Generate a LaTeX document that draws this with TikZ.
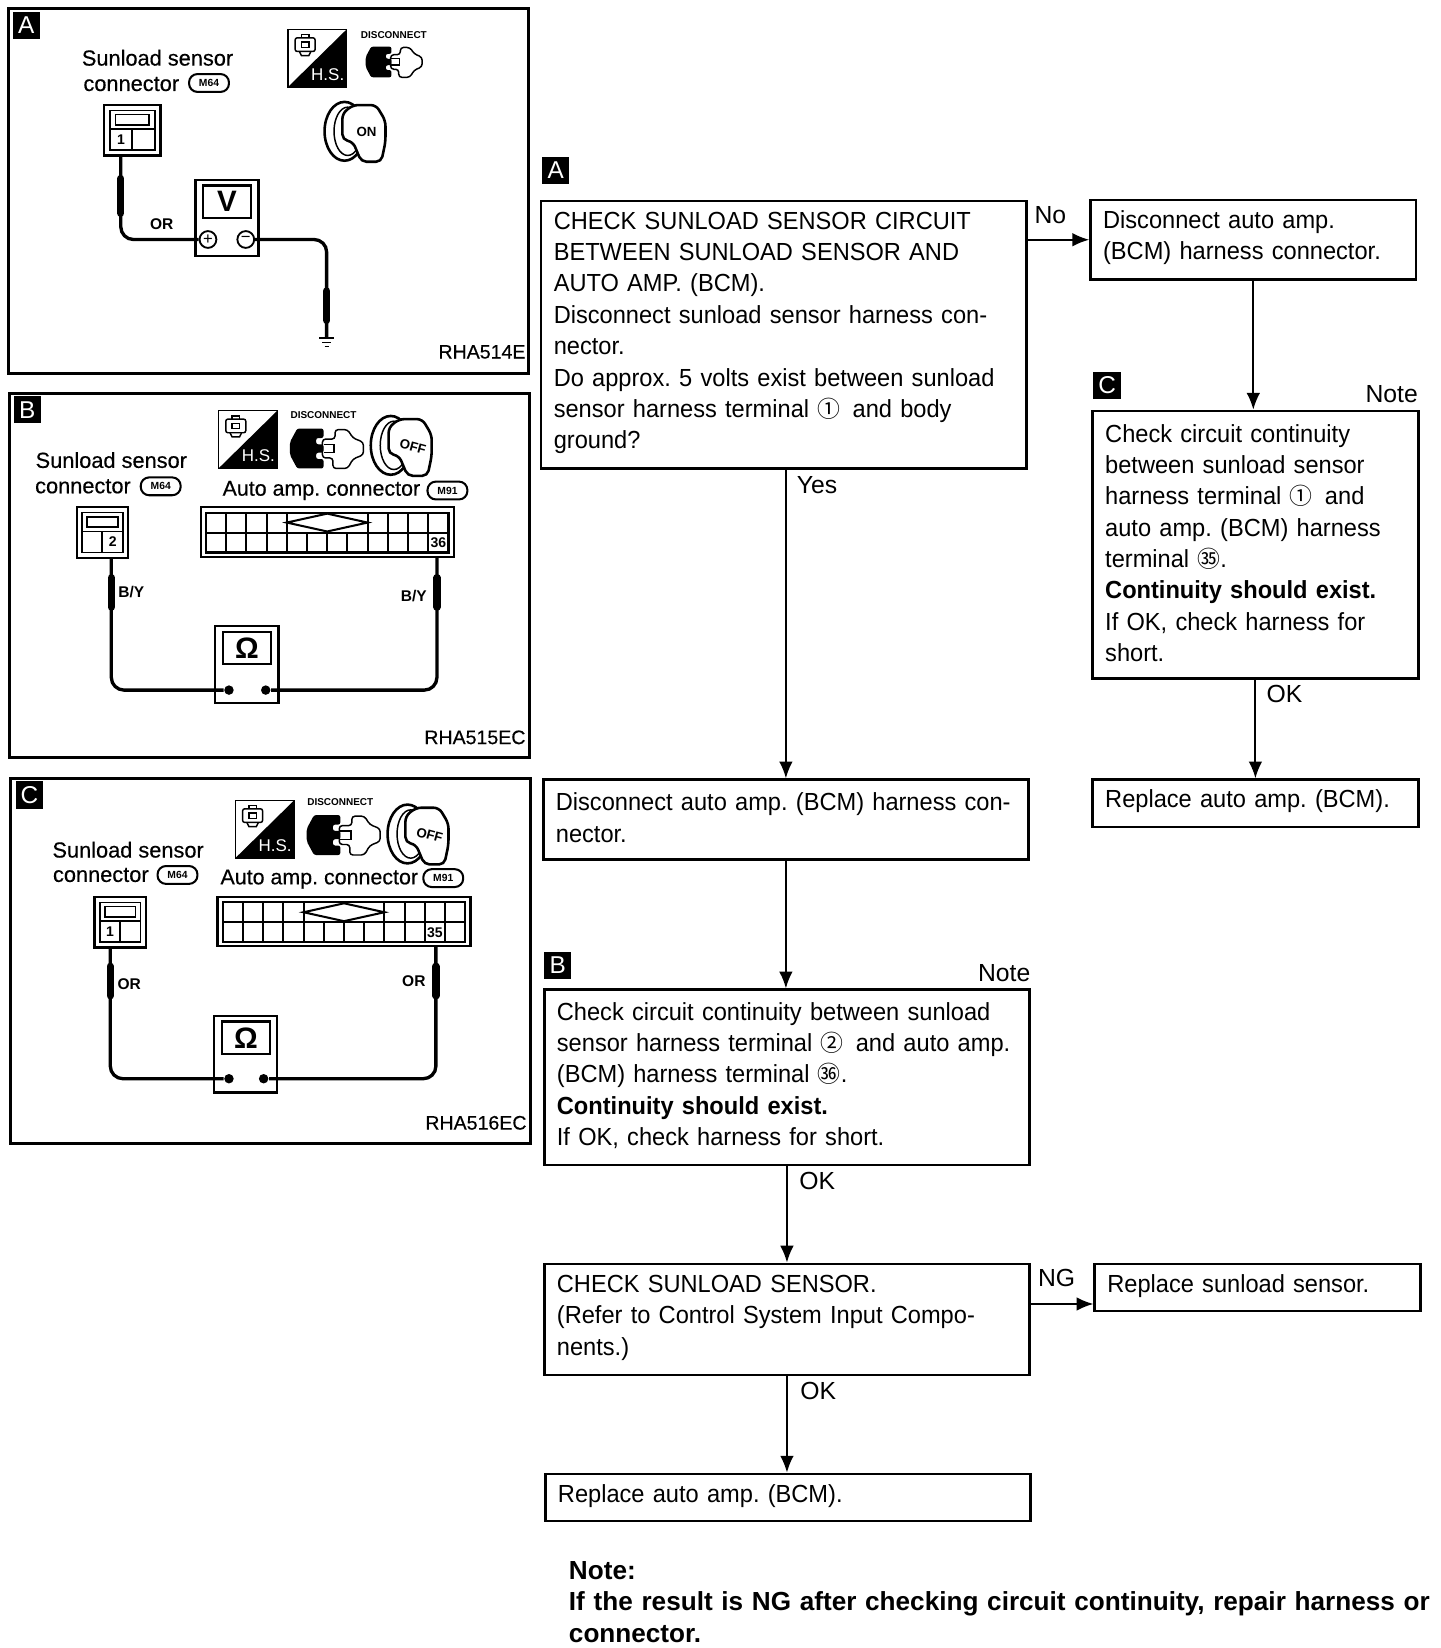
\documentclass[tikz,border=0pt]{standalone}
\usepackage{fontspec}
\setmainfont{Liberation Sans}
\newfontfamily\circfont{Noto Sans CJK JP}
\newfontfamily\stepfont[FakeStretch=0.955]{Liberation Sans}
\newfontfamily\capfont[FakeBold=0.4]{Liberation Sans}
\frenchspacing
\usepackage{tikz}
\usetikzlibrary{arrows.meta,positioning}

\newcommand{\Pin}[1]{{\circfont\fontsize{6.2}{8.5}\selectfont #1}}

% H.S. badge, top left at #2,#3
\newcommand{\HSIcon}[3]{
	\begin{scope}[shift={(#2,#3)}]
		\fill (0.56,0) -- (0.56,-0.55) -- (0,-0.55) -- cycle;
		\draw[Thin] (0,0) rectangle (0.56,-0.55);
		\node (#1hs) at (0.38,-0.43) [HSText] {H.S.};
		\draw[Thin, rounded corners=0.02cm] (0.07,-0.08) rectangle (0.26,-0.21);
		\draw[Thin] (0.11,-0.21) -- (0.13,-0.25) -- (0.2,-0.25) -- (0.22,-0.21);
		\draw[Thin] (0.13,-0.08) -- (0.13,-0.05) -- (0.2,-0.05) -- (0.2,-0.08);
		\draw[Thin] (0.13,-0.12) rectangle (0.2,-0.17);
	\end{scope}
}

% unplugged connector, centre at #2,#3, scale #4
\newcommand{\PlugIcon}[4]{
	\begin{scope}[shift={(#2,#3)}, scale=#4]
		\draw[Thin, fill=white, rounded corners=0.03cm] (-0.04,0.09) -- (0.08,0.09) -- (0.08,0.18) -- (0.2,0.18) -- (0.25,0.1) -- (0.35,0.06)
			-- (0.35,-0.06) -- (0.25,-0.1) -- (0.2,-0.19) -- (0.06,-0.19) -- (0.06,-0.09) -- (-0.04,-0.09) -- cycle;
		\draw[Thin] (-0.03,0.04) -- (0.07,0.04) -- (0.07,-0.04) -- (-0.03,-0.04);
		\fill[rounded corners=0.02cm] (-0.35,0.06) -- (-0.28,0.19) -- (-0.03,0.19) -- (-0.03,0.1) -- (-0.1,0.1) -- (-0.1,0.04) -- (-0.03,0.04)
			-- (-0.03,-0.04) -- (-0.1,-0.04) -- (-0.1,-0.1) -- (-0.03,-0.1) -- (-0.03,-0.19) -- (-0.28,-0.19) -- (-0.35,-0.06) -- cycle;
	\end{scope}
}

% ignition key, centre at #2,#3
\newcommand{\KeyIcon}[5]{
	\begin{scope}[shift={(#2,#3)}]
		\draw[line width=0.7pt] (-0.1,0) ellipse (0.19 and 0.28);
		\draw[Thin] (-0.07,0) ellipse (0.13 and 0.23);
		\draw[line width=0.7pt, fill=white, rounded corners=0.05cm] (-0.12,0.17) -- (-0.02,0.25) -- (0.2,0.25) -- (0.29,0.1) -- (0.29,-0.1)
			-- (0.25,-0.29) -- (0.06,-0.29) -- (-0.02,-0.1) -- (-0.12,-0.08) -- cycle;
		\node (#1key) at (0.11,-0.01) [KeyText, rotate=#5] {#4};
	\end{scope}
}

% small sensor connector, top left at #2,#3, width #4
\newcommand{\SmallConn}[6]{
	\begin{scope}[shift={(#2,#3)}, xscale=#4]
		\draw[line width=0.6pt] (0,0) rectangle (0.49,-0.48);
		\draw[Thin] (0.05,-0.05) rectangle (0.44,-0.43);
		\draw[line width=0.5pt] (0.1,-0.09) rectangle (0.39,-0.19);
		\draw[line width=0.5pt] (0.05,-0.23) -- (0.44,-0.23);
		\draw[line width=0.5pt] (0.245,-0.23) -- (0.245,-0.43);
		\node (#1cellL) at (0.147,-0.33) [PinText] {#5};
		\node (#1cellR) at (0.343,-0.33) [PinText] {#6};
	\end{scope}
}

% auto amp connector, top left at #2,#3, label #5 in column #4
\newcommand{\BigConn}[5]{
	\begin{scope}[shift={(#2,#3)}]
		\draw[line width=0.6pt] (0,0) rectangle (2.41,-0.47);
		\draw[Cell] (0.05,-0.05) rectangle (2.36,-0.43);
		\draw[Cell] (0.05,-0.24) -- (2.36,-0.24);
		\foreach \c in {1,...,11}
			\draw[Cell] ({0.05+\c*0.1925},-0.24) -- ({0.05+\c*0.1925},-0.43);
		\foreach \c in {1,2,3,4,8,9,10,11}
			\draw[Cell] ({0.05+\c*0.1925},-0.05) -- ({0.05+\c*0.1925},-0.24);
		\draw[Cell] (0.82,-0.145) -- (1.205,-0.06) -- (1.59,-0.145) -- (1.205,-0.23) -- cycle;
		\node (#1num) at ({0.05+(#4-0.5)*0.1925},-0.335) [PinText] {#5};
	\end{scope}
}

% meter body with display, top left at #2,#3
\newcommand{\Meter}[4]{
	\node (#1) at (#2,#3) [MeterBody] {};
	\node (#1face) at ([yshift=-0.22cm]#1.north) [MeterFace] {#4};
}

\begin{document}
\begin{tikzpicture}
		\tikzstyle{Step}	= [draw, line width=0.7pt, anchor=north west, align=left, inner xsep=0.12cm, inner ysep=0pt, font=\stepfont\fontsize{6.7}{8.5}\selectfont, execute at end node=\vspace{0.035cm}]
		\tikzstyle{Wide}	= [text width=4.38cm, minimum width=4.62cm]
		\tikzstyle{Narrow}	= [text width=2.86cm, minimum width=3.1cm]
		\tikzstyle{Flow}	= [line width=0.5pt, -{Latex[length=1.6mm,width=1.3mm]}]
		\tikzstyle{Tag}		= [fill=black, text=white, minimum size=0.26cm, inner sep=0pt, font=\fontsize{6.6}{7}\selectfont]
		\tikzstyle{Word}	= [inner sep=0pt, font=\fontsize{6.7}{8.5}\selectfont]
		\tikzstyle{Panel}	= [draw, line width=0.75pt, anchor=north west, minimum width=4.95cm, minimum height=3.47cm, inner sep=0pt]
		\tikzstyle{Thin}	= [line width=0.4pt]
		\tikzstyle{Cell}	= [line width=0.55pt]
		\tikzstyle{Wire}	= [line width=0.9pt, rounded corners=0.12cm]
		\tikzstyle{Probe}	= [line width=2pt, line cap=round]
		\tikzstyle{Caption}	= [inner sep=0pt, font=\capfont\fontsize{5.9}{7}\selectfont]
		\tikzstyle{AmpText}	= [inner sep=0pt, font=\capfont\fontsize{5.8}{7}\selectfont]
		\tikzstyle{Code}	= [inner sep=0pt, anchor=east, font=\capfont\fontsize{5.3}{7}\selectfont]
		\tikzstyle{WireText}	= [inner sep=0pt, font=\bfseries\fontsize{4.2}{5}\selectfont]
		\tikzstyle{Oval}	= [draw, line width=0.55pt, rounded corners=0.08cm, minimum width=0.38cm, minimum height=0.17cm, inner sep=0pt, font=\bfseries\fontsize{2.8}{3}\selectfont]
		\tikzstyle{HSText}	= [text=white, inner sep=0pt, font=\fontsize{4.6}{6}\selectfont]
		\tikzstyle{KeyText}	= [inner sep=0pt, font=\bfseries\fontsize{3.6}{4}\selectfont]
		\tikzstyle{DisText}	= [inner sep=0pt, font=\bfseries\fontsize{2.7}{3}\selectfont]
		\tikzstyle{PinText}	= [inner sep=0pt, font=\bfseries\fontsize{3.8}{4}\selectfont]
		\tikzstyle{MeterBody}	= [draw, line width=0.6pt, fill=white, anchor=north west, minimum width=0.6cm, minimum height=0.73cm, inner sep=0pt]
		\tikzstyle{MeterFace}	= [draw, line width=0.6pt, anchor=center, minimum width=0.46cm, minimum height=0.31cm, inner sep=0pt, font=\bfseries\fontsize{8}{9}\selectfont]
		\tikzstyle{Dot}		= [circle, fill=black, minimum size=0.09cm, inner sep=0pt]
		\tikzstyle{Sign}	= [circle, draw, line width=0.5pt, fill=white, minimum size=0.16cm, inner sep=0pt, font=\fontsize{4.5}{5}\selectfont]

		\useasboundingbox (0,0) rectangle (13.71,-15.69);

		% panel A
		\node (panelA) at (0.07,-0.07) [Panel] {};
		\node (tagPanelA) at (0.25,-0.24) [Tag] {A};
		\node (sunloadA) at (1.5,-0.55) [Caption] {Sunload sensor};
		\node (connA) at (1.25,-0.8) [Caption] {connector};
		\node (ovalA) at (1.99,-0.79) [Oval] {M64};
		\HSIcon{A}{2.74}{-0.28}
		\node (disA) at (3.75,-0.33) [DisText] {DISCONNECT};
		\PlugIcon{A}{3.75}{-0.59}{0.77}
		\KeyIcon{A}{3.38}{-1.25}{ON}{0}
		\SmallConn{A}{0.99}{-1.0}{1.1}{1}{}
		\coordinate (pinA) at (1.15,-1.47);
		\Meter{meterA}{1.85}{-1.7}{V}
		\node (plusA) at (1.98,-2.28) [Sign] {+};
		\node (minusA) at (2.34,-2.28) [Sign] {−};
		\coordinate (groundA) at (3.11,-3.22);
		\draw[Wire] (pinA) -- (pinA |- plusA) -- (plusA.west);
		\draw[Wire] (minusA.east) -- (minusA -| groundA) -- (groundA);
		\draw[Probe] (1.15,-1.7) -- (1.15,-2.03);
		\draw[Probe] (3.11,-2.77) -- (3.11,-3.05);
		\draw[Thin] (3.04,-3.22) -- (3.18,-3.22);
		\draw[Thin] (3.07,-3.26) -- (3.15,-3.26);
		\draw[Thin] (3.09,-3.3) -- (3.13,-3.3);
		\node (wireA) at (1.54,-2.13) [WireText] {OR};
		\node (codeA) at (5.01,-3.35) [Code] {RHA514E};

		% panel B
		\node (panelB) at (0.08,-3.73) [Panel] {};
		\node (tagPanelB) at (0.26,-3.9) [Tag] {B};
		\node (sunloadB) at (1.06,-4.38) [Caption] {Sunload sensor};
		\node (connB) at (0.79,-4.63) [Caption] {connector};
		\node (ovalB) at (1.53,-4.63) [Oval] {M64};
		\HSIcon{B}{2.08}{-3.91}
		\node (disB) at (3.08,-3.95) [DisText] {DISCONNECT};
		\PlugIcon{B}{3.11}{-4.27}{1}
		\KeyIcon{B}{3.82}{-4.24}{OFF}{-15}
		\node (ampB) at (3.06,-4.67) [AmpText] {Auto amp. connector};
		\node (ovalAmpB) at (4.26,-4.67) [Oval] {M91};
		\SmallConn{B}{0.73}{-4.83}{1}{}{2}
		\BigConn{B}{1.91}{-4.83}{12}{36}
		\coordinate (pinB1) at (1.06,-5.31);
		\coordinate (pinB2) at (4.16,-5.3);
		\Meter{meterB}{2.04}{-5.95}{Ω}
		\node (dotB1) at (2.18,-6.57) [Dot] {};
		\node (dotB2) at (2.53,-6.57) [Dot] {};
		\draw[Wire] (pinB1) -- (pinB1 |- dotB1) -- (dotB1);
		\draw[Wire] (pinB2) -- (pinB2 |- dotB2) -- (dotB2);
		\draw[Probe] (1.06,-5.5) -- (1.06,-5.78);
		\draw[Probe] (4.16,-5.5) -- (4.16,-5.78);
		\node (wireB1) at (1.25,-5.64) [WireText] {B/Y};
		\node (wireB2) at (3.94,-5.67) [WireText] {B/Y};
		\node (codeB) at (5.01,-7.02) [Code] {RHA515EC};

		% panel C
		\node (panelC) at (0.09,-7.4) [Panel] {};
		\node (tagPanelC) at (0.28,-7.57) [Tag] {C};
		\node (sunloadC) at (1.22,-8.09) [Caption] {Sunload sensor};
		\node (connC) at (0.96,-8.33) [Caption] {connector};
		\node (ovalC) at (1.69,-8.33) [Oval] {M64};
		\HSIcon{C}{2.24}{-7.62}
		\node (disC) at (3.24,-7.64) [DisText] {DISCONNECT};
		\PlugIcon{C}{3.27}{-7.95}{1}
		\KeyIcon{C}{3.98}{-7.94}{OFF}{-15}
		\node (ampC) at (3.04,-8.37) [AmpText] {Auto amp. connector};
		\node (ovalAmpC) at (4.22,-8.36) [Oval] {M91};
		\SmallConn{C}{0.9}{-8.54}{1}{1}{}
		\BigConn{C}{2.07}{-8.54}{11}{35}
		\coordinate (pinC1) at (1.05,-9.02);
		\coordinate (pinC2) at (4.15,-9.01);
		\Meter{meterC}{2.03}{-9.66}{Ω}
		\node (dotC1) at (2.18,-10.27) [Dot] {};
		\node (dotC2) at (2.51,-10.27) [Dot] {};
		\draw[Wire] (pinC1) -- (pinC1 |- dotC1) -- (dotC1);
		\draw[Wire] (pinC2) -- (pinC2 |- dotC2) -- (dotC2);
		\draw[Probe] (1.05,-9.2) -- (1.05,-9.48);
		\draw[Probe] (4.15,-9.2) -- (4.15,-9.48);
		\node (wireC1) at (1.23,-9.37) [WireText] {OR};
		\node (wireC2) at (3.94,-9.34) [WireText] {OR};
		\node (codeC) at (5.02,-10.69) [Code] {RHA516EC};

		% flow steps
		\node (tagA) at (5.29,-1.62) [Tag] {A};
		\node (boxA) at (5.14,-1.9) [Step][Wide][minimum height=2.55cm] {CHECK SUNLOAD SENSOR CIRCUIT\\BETWEEN SUNLOAD SENSOR AND\\AUTO AMP. (BCM).\\Disconnect sunload sensor harness con-\\nector.\\Do approx. 5 volts exist between sunload\\sensor harness terminal \Pin{①}\, and body\\ground?};
		\node (boxNo) at (10.37,-1.89) [Step][Narrow][minimum height=0.76cm] {Disconnect auto amp.\\(BCM) harness connector.};
		\node (tagC) at (10.54,-3.67) [Tag] {C};
		\node (noteC) at (13.25,-3.75) [Word] {Note};
		\node (boxC) at (10.39,-3.9) [Step][Narrow][minimum height=2.55cm] {Check circuit continuity\\between sunload sensor\\harness terminal \Pin{①}\, and\\auto amp. (BCM) harness\\terminal \Pin{㉟}.\\\textbf{Continuity should exist.}\\If OK, check harness for\\short.};
		\node (boxAmpR) at (10.39,-7.41) [Step][Narrow][minimum height=0.45cm] {Replace auto amp. (BCM).};
		\node (boxOff) at (5.16,-7.41) [Step][Wide][minimum height=0.76cm] {Disconnect auto amp. (BCM) harness con-\\nector.};
		\node (tagB) at (5.31,-9.19) [Tag] {B};
		\node (noteB) at (9.56,-9.26) [Word] {Note};
		\node (boxB) at (5.17,-9.41) [Step][Wide][minimum height=1.67cm] {Check circuit continuity between sunload\\sensor harness terminal \Pin{②}\, and auto amp.\\(BCM) harness terminal \Pin{㊱}.\\\textbf{Continuity should exist.}\\If OK, check harness for short.};
		\node (boxCheck) at (5.17,-12.02) [Step][Wide][minimum height=1.06cm] {CHECK SUNLOAD SENSOR.\\(Refer to Control System Input Compo-\\nents.)};
		\node (boxSun) at (10.41,-12.02) [Step][Narrow][minimum height=0.45cm] {Replace sunload sensor.};
		\node (boxAmpL) at (5.18,-14.02) [Step][Wide][minimum height=0.45cm] {Replace auto amp. (BCM).};
		\node (noteText) at (5.41,-14.86) [Word, anchor=north west, align=left, text width=8.3cm, font=\bfseries\fontsize{7.08}{8.5}\selectfont] {Note:\\If the result is NG after checking circuit continuity, repair harness or\\connector.};

		% flow arrows
		\coordinate (sunIn) at ([yshift=0.08cm]boxSun.south west);
		\draw[Flow] (boxA.east |- boxNo.west) -- (boxNo.west);
		\draw[Flow] (boxA.south -| boxOff.north) -- (boxOff.north);
		\draw[Flow] (boxNo.south) -- (boxNo.south |- boxC.north);
		\draw[Flow] (boxC.south) -- (boxC.south |- boxAmpR.north);
		\draw[Flow] (boxOff.south) -- (boxOff.south |- boxB.north);
		\draw[Flow] (boxB.south) -- (boxB.south |- boxCheck.north);
		\draw[Flow] (boxCheck.south) -- (boxCheck.south |- boxAmpL.north);
		\draw[Flow] (boxCheck.east |- sunIn) -- (sunIn);
		\node (lblNo) at (10.0,-2.05) [Word] {No};
		\node (lblYes) at (7.78,-4.62) [Word] {Yes};
		\node (lblOkC) at (12.23,-6.61) [Word] {OK};
		\node (lblOkB) at (7.78,-11.24) [Word] {OK};
		\node (lblNg) at (10.06,-12.17) [Word] {NG};
		\node (lblOkCheck) at (7.79,-13.24) [Word] {OK};
	\end{tikzpicture}
\end{document}
